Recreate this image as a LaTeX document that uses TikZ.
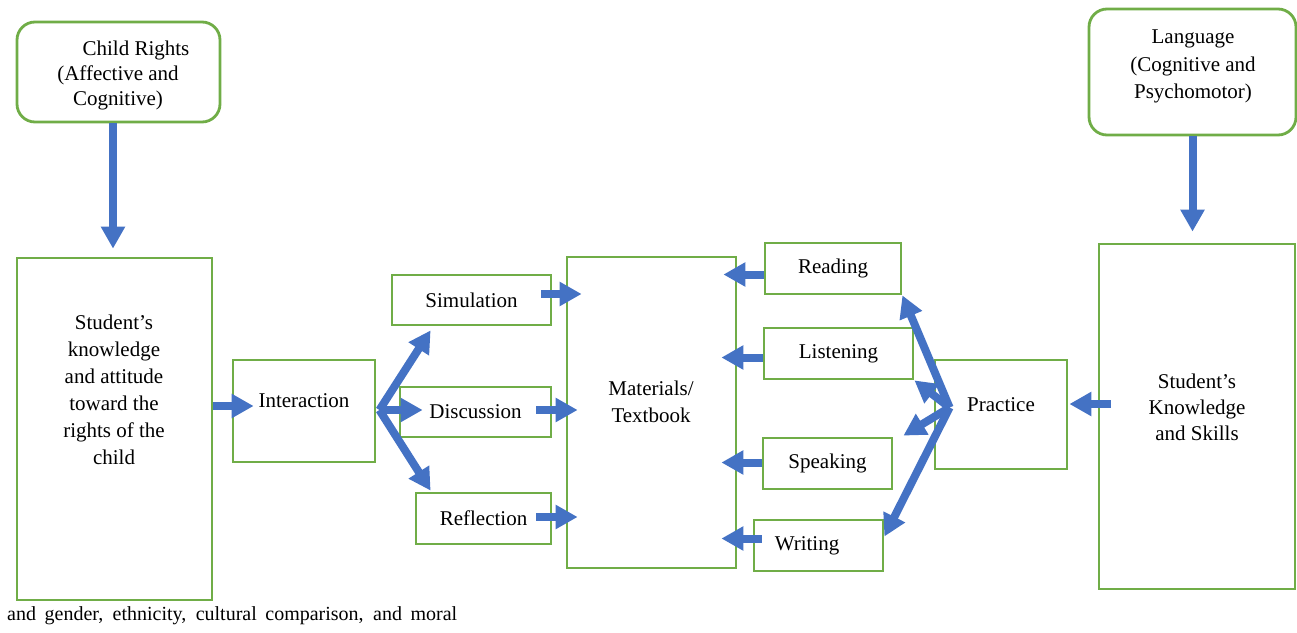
\documentclass[tikz,border=0pt]{standalone}
\usepackage{fontspec}
\setmainfont{Liberation Serif}
\usetikzlibrary{arrows.meta,calc}
\definecolor{bgreen}{RGB}{112,173,71}
\definecolor{ablue}{RGB}{68,114,196}
\newcommand\boxfont{\fontsize{21}{27}\selectfont}
\begin{document}
\begin{tikzpicture}[x=1pt,y=-1pt,
  box/.style={draw=bgreen,line width=2.8pt,fill=white,inner sep=0pt,font=\boxfont},
  rbox/.style={box,rounded corners=18pt},
  txt/.style={align=center,inner sep=0pt,font=\boxfont},
  arr/.style={draw=ablue,line width=8pt,-{Triangle[width=23pt,length=22pt]}},
  ]
\useasboundingbox (0,0) rectangle (1297,632);

% boxes
\node[rbox,minimum width=203pt,minimum height=100pt] (cr) at (118.5,72) {};
\node[box,minimum width=195pt,minimum height=342pt] (stud) at (114.5,429) {};
\node[box,minimum width=142pt,minimum height=102pt] (inter) at (304,411) {\raisebox{20pt}{Interaction}};
\node[box,minimum width=159pt,minimum height=50pt] (sim) at (471.5,300) {Simulation};
\node[box,minimum width=151pt,minimum height=50pt] (disc) at (475.5,412) {Discussion};
\node[box,minimum width=135pt,minimum height=51pt] (refl) at (483.5,518.5) {Reflection};
\node[box,minimum width=169pt,minimum height=311pt] (mat) at (651.5,412.5) {};
\node[box,minimum width=136pt,minimum height=51pt] (read) at (833,268.5) {Reading};
\node[box,minimum width=149pt,minimum height=51pt] (list) at (838.5,353.5) {Listening};
\node[box,minimum width=129pt,minimum height=51pt] (speak) at (827.5,463.5) {Speaking};
\node[box,minimum width=129pt,minimum height=51pt] (writ) at (818.5,545.5) {\hspace*{-23pt}Writing};
\node[box,minimum width=132pt,minimum height=109pt] (pract) at (1001,414.5) {\raisebox{19pt}{Practice}};
\node[box,minimum width=196pt,minimum height=345pt] (sks) at (1197,416.5) {};
\node[rbox,minimum width=207pt,minimum height=126pt] (lang) at (1192.5,72) {};

% texts
\node[txt,font=\fontsize{21}{25}\selectfont] (crT) at (118,75) {\hspace*{36pt}Child Rights\\(Affective and\\Cognitive)};
\node[txt] (studT) at (114,390) {Student’s\\knowledge\\and attitude\\toward the\\rights of the\\child};
\node[txt] (matT) at (651,401.5) {Materials/\\Textbook};
\node[txt,font=\fontsize{21}{27.5}\selectfont] (langT) at (1193,66.5) {Language\\(Cognitive and\\Psychomotor)};
\node[txt,font=\fontsize{21}{26}\selectfont] (sksT) at (1197,407) {Student’s\\Knowledge\\and Skills};
\node[inner sep=0pt,anchor=west,font=\fontsize{20}{24}\selectfont] (bottom) at (7,616)
  {\makebox[450pt][s]{and gender, ethnicity, cultural comparison, and moral}};

% arrows
\draw[arr] ($(cr.south)+(-5.5,0)$) -- ($(stud.north)+(-1.5,-8)$);
\draw[arr] ($(stud.east)+(0,-23)$) -- ($(inter.west)+(22,-5)$);
\coordinate (fork) at ($(inter.east)+(3,-1)$);
\draw[arr] (fork) -- ($(sim.south west)+(40,4)$);
\draw[arr] (fork) -- ($(disc.west)+(24,-2)$);
\draw[arr] (fork) -- ($(refl.north west)+(16,-1)$);
\draw[arr] ($(sim.east)+(-11,-6)$) -- ($(sim.east -| mat.west)+(16,-6)$);
\draw[arr] ($(disc.east)+(-16,-2)$) -- ($(disc.east -| mat.west)+(12,-2)$);
\draw[arr] ($(refl.east)+(-16,-1.5)$) -- ($(refl.east -| mat.west)+(12,-1.5)$);
\draw[arr] ($(read.west)+(0,6)$) -- ($(read.west -| mat.east)+(-14,6)$);
\draw[arr] ($(list.west)+(0,4)$) -- ($(list.west -| mat.east)+(-16,4)$);
\draw[arr] ($(speak.west)+(0,-1)$) -- ($(speak.west -| mat.east)+(-16,-1)$);
\draw[arr] ($(writ.west)+(9,-7)$) -- ($(writ.west -| mat.east)+(-16,-7)$);
\coordinate (pf) at ($(pract.west)+(16,-7)$);
\draw[arr] (pf) -- (read.south east);
\draw[arr] (pf) -- (list.south east);
\draw[arr] (pf) -- ($(speak.north east)+(10,-1)$);
\draw[arr] (pf) -- ($(writ.east)+(0,-9)$);
\draw[arr] ($(sks.west)+(13,-12.5)$) -- ($(pract.east)+(1,-10.5)$);
\draw[arr] (lang.south) -- ($(lang.south |- sks.north)+(0,-11)$);
\end{tikzpicture}
\end{document}
